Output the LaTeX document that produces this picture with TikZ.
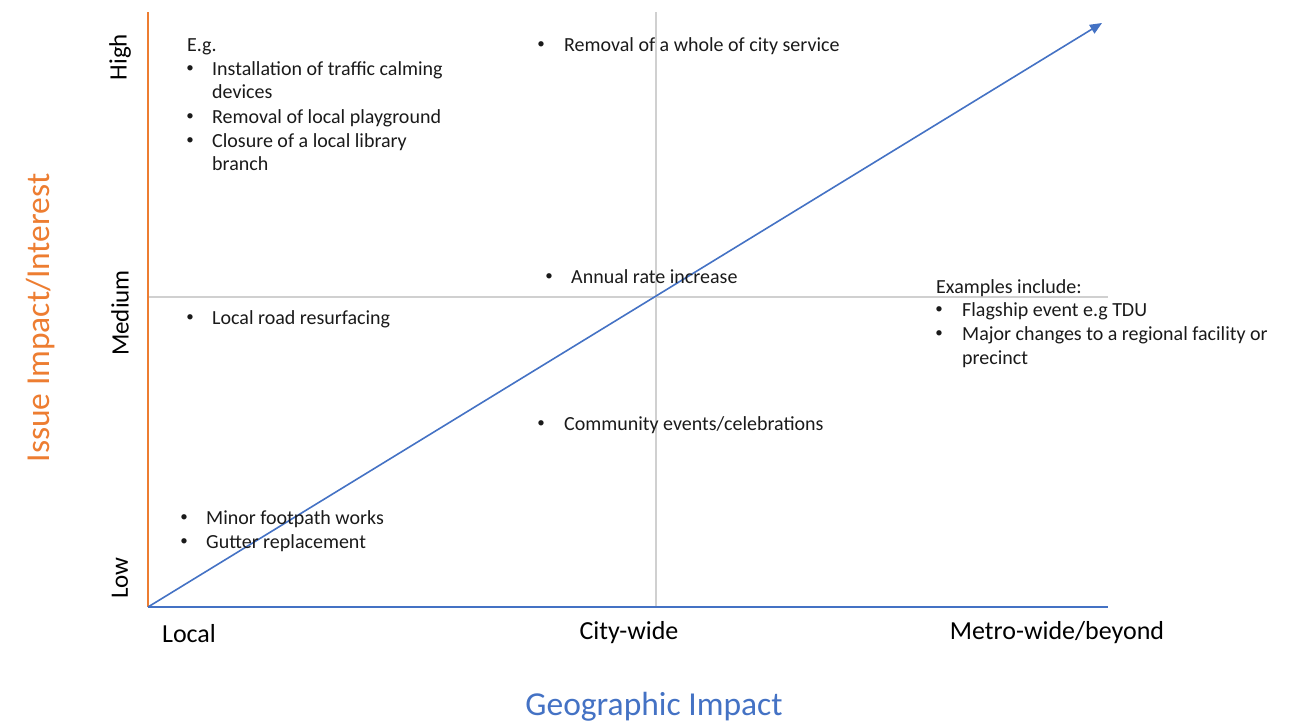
\documentclass[tikz,border=0pt]{standalone}
\usepackage{fontspec}
\setmainfont{Carlito}
\usetikzlibrary{arrows.meta}
\definecolor{axorange}{HTML}{ED7D31}
\definecolor{axblue}{HTML}{4472C4}
\definecolor{gridgray}{HTML}{D0D0D0}
\definecolor{txt}{HTML}{1A1A1A}
\begin{document}
\begin{tikzpicture}[x=1pt,y=-1pt,
  body/.style={inner sep=0pt,anchor=mid west,yshift=-5pt,text=txt,font=\fontsize{20}{24}\selectfont},
  bul/.style={inner sep=0pt,anchor=center,yshift=-1pt,text=txt,font=\fontsize{15}{18}\selectfont},
  level/.style={inner sep=0pt,anchor=center,rotate=90,text=black,font=\fontsize{25}{30}\selectfont},
  xlab/.style={inner sep=0pt,anchor=center,text=black,font=\fontsize{26}{30}\selectfont},
  title/.style={inner sep=0pt,anchor=center,font=\fontsize{33.5}{40}\selectfont},
  grid/.style={draw=gridgray,line width=1.2pt},
]
\useasboundingbox (0,0) rectangle (1297,724);
% coordinates
\coordinate (O) at (148,607);
\coordinate (Ytop) at (148,12);
\coordinate (Xend) at (1108,607);
\coordinate (Vtop) at (656,12);
\coordinate (Vbot) at (656,607);
\coordinate (Hl) at (148,297);
\coordinate (Hr) at (1108,297);
\coordinate (Tip) at (1102,23);
% grid lines
\draw[grid] (Vtop) -- (Vbot);
\draw[grid] (Hl) -- (Hr);
% axes
\draw[axorange,line width=1.6pt] (O) -- (Ytop);
\draw[axblue,line width=1.6pt] (O) -- (Xend);
\draw[axblue,line width=1.6pt,-{Triangle[length=12pt,width=10pt]}] (O) -- (Tip);
% axis titles
\node[title,rotate=90,text=axorange] (ytitle) at (41,318) {Issue Impact/Interest};
\node[title,text=axblue] (xtitle) at (654,707) {Geographic Impact};
% level labels
\node[level] (high) at (120,57) {High};
\node[level] (medium) at (120,313) {Medium};
\node[level] (low) at (120,578) {Low};
% x labels
\node[xlab] (local) at (189,634) {Local};
\node[xlab] (city) at (629,633) {City-wide};
\node[xlab] (metro) at (1057,633) {Metro-wide/beyond};
% top-left list
\node[body] (eg) at (187,44) {E.g.};
\node[bul] (b1) at (190,68) {\textbullet};
\node[body] (t1) at (212,68) {Installation of traffic calming};
\node[body] (t1b) at (212,91) {devices};
\node[bul] (b2) at (190,116) {\textbullet};
\node[body] (t2) at (212,116) {Removal of local playground};
\node[bul] (b3) at (190,140) {\textbullet};
\node[body] (t3) at (212,140) {Closure of a local library};
\node[body] (t3b) at (212,163) {branch};
% top-middle
\node[bul] (b4) at (541,44) {\textbullet};
\node[body] (t4) at (564,44) {Removal of a whole of city service};
% middle
\node[bul] (b5) at (549,276) {\textbullet};
\node[body] (t5) at (571,276) {Annual rate increase};
\node[bul] (b6) at (190,317) {\textbullet};
\node[body] (t6) at (212,317) {Local road resurfacing};
\node[bul] (b7) at (541,423) {\textbullet};
\node[body] (t7) at (564,423) {Community events/celebrations};
% bottom-left
\node[bul] (b8) at (184,517) {\textbullet};
\node[body] (t8) at (206,517) {Minor footpath works};
\node[bul] (b9) at (184,541) {\textbullet};
\node[body] (t9) at (206,541) {Gutter replacement};
% right
\node[body] (ex) at (936,286) {Examples include:};
\node[bul] (b10) at (939,309) {\textbullet};
\node[body] (t10) at (962,309) {Flagship event e.g TDU};
\node[bul] (b11) at (939,333) {\textbullet};
\node[body] (t11) at (962,333) {Major changes to a regional facility or};
\node[body] (t11b) at (962,357) {precinct};
\end{tikzpicture}
\end{document}
